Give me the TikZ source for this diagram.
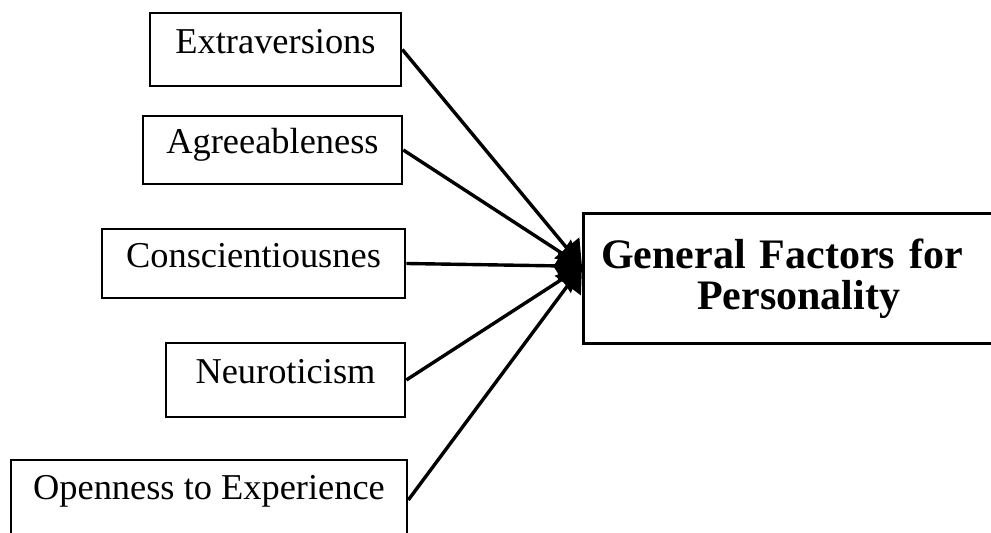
\documentclass[tikz,border=0pt]{standalone}
\usepackage{fontspec}
\setmainfont{Liberation Serif}
\usetikzlibrary{arrows.meta}
\begin{document}
\begin{tikzpicture}[x=0.5pt, y=-0.5pt,
        trait/.style={draw, line width=1.3pt, inner sep=0pt, text height=12pt, text depth=8pt, font=\fontsize{18.2}{21}\selectfont},
        link/.style={-{Triangle[length=12pt,width=16pt]}, line width=1.7pt}]
        % Five traits feeding the general factor
        \useasboundingbox (0,0) rectangle (991,533);
        \clip (0,0) rectangle (991,533);
        \node[trait, minimum width=125.5pt, minimum height=36.5pt] (extra) at (275.5,49.5) {Extraversions};
        \node[trait, minimum width=129.5pt, minimum height=34pt] (agree) at (272.5,150) {Agreeableness};
        \node[trait, minimum width=151.5pt, minimum height=34.5pt] (consc) at (253.5,263.5) {Conscientiousnes};
        \node[trait, minimum width=119.5pt, minimum height=37pt] (neuro) at (285.5,380) {Neuroticism};
        \node[trait, minimum width=198pt, minimum height=40pt, text depth=12pt] (open) at (209,500) {Openness to Experience};

        \node[draw, line width=1.3pt, anchor=north west, inner xsep=9pt, inner ysep=0pt, text width=191pt, minimum height=65pt, align=left, font=\bfseries\fontsize{21}{20.5}\selectfont] (gfp) at (582,212) {General Factors for\\\hspace*{48pt}Personality};
        \coordinate (meet) at ([yshift=6pt]gfp.west);

        \draw[link] (extra.east) -- (meet);
        \draw[link] (agree.east) -- (meet);
        \draw[link] (consc.east) -- (meet);
        \draw[link] (neuro.east) -- (meet);
        \draw[link] (open.east) -- (meet);
\end{tikzpicture}
\end{document}
